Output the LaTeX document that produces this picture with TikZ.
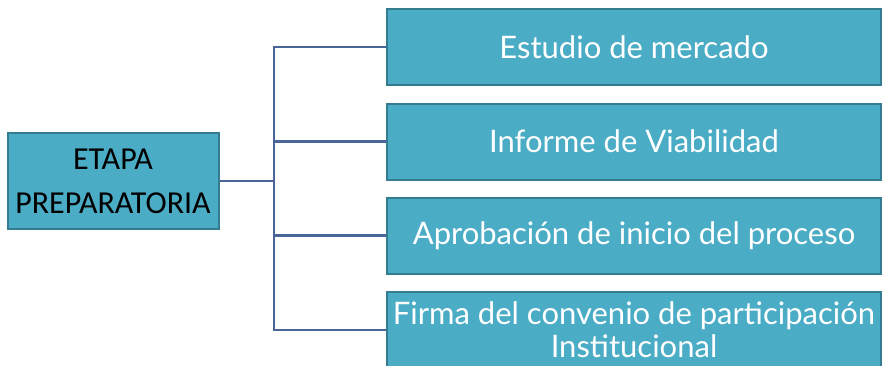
\documentclass[tikz,border=0pt]{standalone}
\usepackage{fontspec}
\usepackage{xcolor}
\usepackage{tikz}
\usetikzlibrary{shapes,calc}
\newfontfamily\leftfont{Carlito}
\newfontfamily\boxfont{Lato}
\definecolor{boxFill}{RGB}{75,172,198}
\definecolor{boxEdge}{RGB}{52,125,145}
\definecolor{lineBlue}{RGB}{74,102,152}
\tikzstyle{tsRoot} = [ 
    rectangle,
    draw=boxEdge,
    fill=boxFill,
    line width=2pt,
    text=black,
    align=center,
    font=\leftfont\fontsize{32}{44}\selectfont
]
\tikzstyle{tsStage} = [ 
    rectangle,
    draw=boxEdge,
    fill=boxFill,
    line width=2pt,
    text=white,
    align=center,
    minimum width=494pt,
    minimum height=76pt,
    font=\boxfont\fontsize{31}{33}\selectfont
]
\tikzstyle{tsLink} = [ 
    draw=lineBlue,
    line width=2.5pt
]
\begin{document}
\begin{tikzpicture}[x=1pt, y=-1pt]
        
        \useasboundingbox (0,0) rectangle (882,365);
        \clip (0,0) rectangle (882,365);
        
        \node[  tsRoot,
                minimum width=211pt,
                minimum height=96pt,
                inner sep=0pt] (etapa) at (113,181) {ETAPA\\PREPARATORIA};
        
        \node[tsStage] (mercado) at (634,47) {Estudio de mercado};
        \node[tsStage] (viable) at (634,141.5) {Informe de Viabilidad};
        \node[tsStage] (inicio) at (634,235.5) {Aprobación de inicio del proceso};
        \node[tsStage, inner sep=0pt] (firma) at (634,330) {Firma del convenio de participación\\Institucional};
        
        \coordinate (split) at (274,181);
        
     	\draw[tsLink] (etapa.east) -- (split);
     	\draw[tsLink] (split) |- (mercado.west);
     	\draw[tsLink] (split) |- (viable.west);
     	\draw[tsLink] (split) |- (inicio.west);
     	\draw[tsLink] (split) |- (firma.west);
   	 	
       \end{tikzpicture}
\end{document}
